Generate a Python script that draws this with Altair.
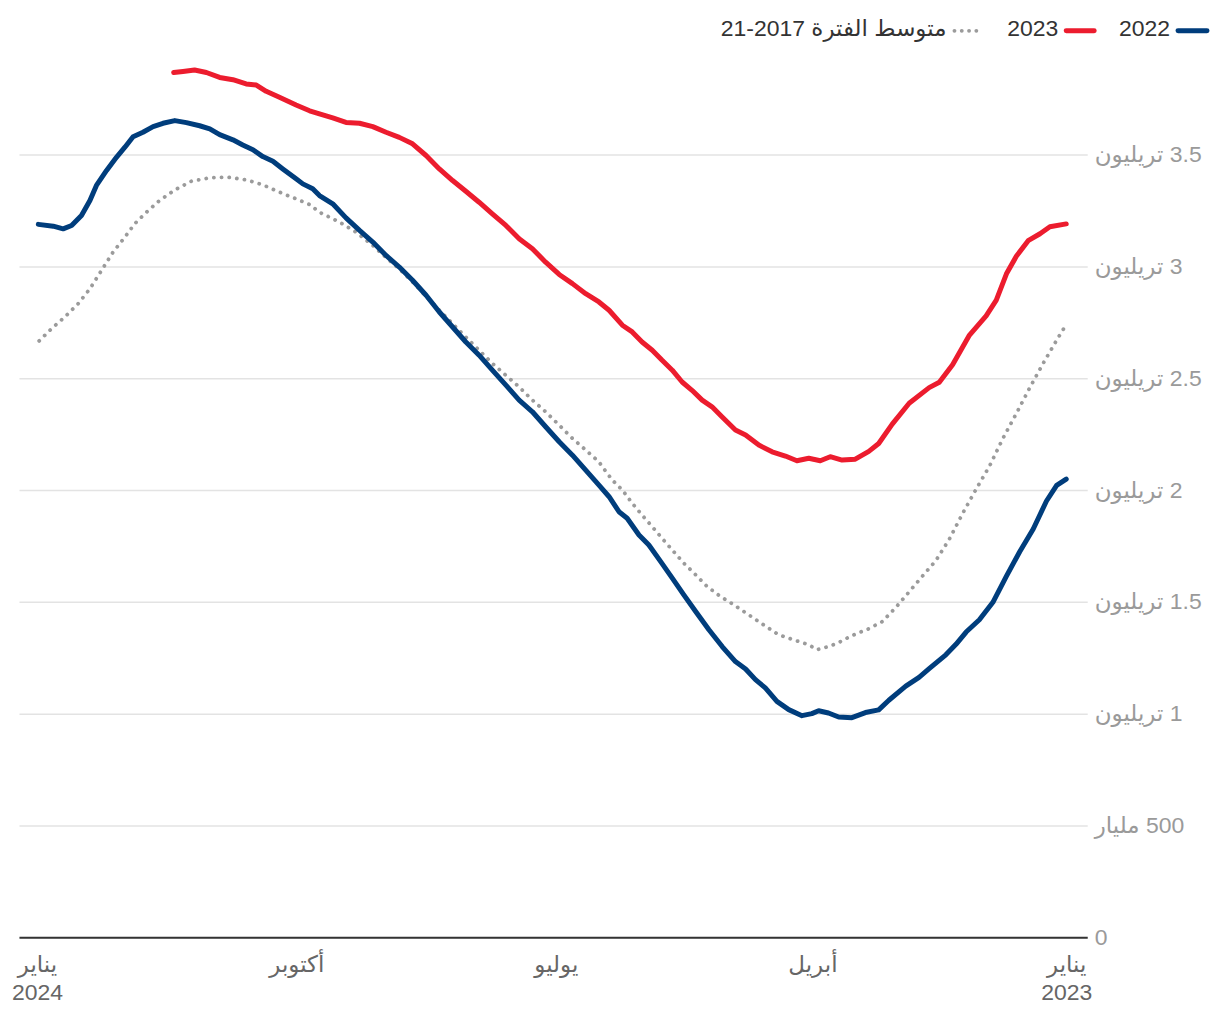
import altair as alt
import pandas as pd

# ---------------- data (day index 0 = 1 Jan, values in billion) ----------------
DAYS_2022 = [0, 3.4, 7.0, 11.7, 16.5, 21.2, 26.0, 30.8, 35.5, 39.1, 42.7, 48.6, 52.2, 56.9,
             62.9, 66.5, 71.2, 76.0, 80.7, 84.3, 87.8, 90.2, 93.7, 98.4, 102.6, 106.7, 110.2,
             113.7, 117.3, 122.0, 126.7, 131.4, 135.6, 139.7, 143.8, 148.0, 151.5, 155.7,
             158.6, 162.1, 165.7, 170.4, 175.1, 179.8, 184.6, 189.3, 194.0, 198.7, 203.5,
             208.2, 212.9, 217.6, 222.3, 227.0, 231.8, 236.5, 241.2, 245.9, 250.6, 255.4,
             260.1, 264.8, 267.2, 270.7, 273.1, 277.8, 281.3, 284.9, 288.4, 292.0, 295.5,
             300.2, 303.7, 307.3, 312.0, 316.1, 320.3, 323.8, 327.4, 330.9, 333.8, 336.8,
             340.3, 343.9, 346.2, 349.2, 352.7, 355.7, 359.2, 364.5]
VALS_2022 = [2049, 2021, 1951, 1826, 1724, 1615, 1498, 1420, 1365, 1310, 1263, 1201, 1162, 1123,
             1060, 1017, 1005, 982, 985, 1003, 1013, 1000, 991, 1018, 1055, 1115, 1152,
             1200, 1233, 1300, 1375, 1457, 1531, 1606, 1680, 1754, 1799, 1874,
             1903, 1970, 2022, 2089, 2156, 2216, 2283, 2350, 2402, 2469, 2536,
             2603, 2662, 2729, 2796, 2871, 2938, 2997, 3049, 3109, 3161, 3217,
             3280, 3317, 3347, 3369, 3392, 3436, 3470, 3491, 3522, 3543, 3566,
             3589, 3615, 3629, 3643, 3652, 3640, 3625, 3600, 3580, 3533, 3488,
             3429, 3362, 3295, 3228, 3183, 3168, 3180, 3188]

DAYS_2023 = [0, 5.8, 9.3, 13.5, 17.7, 21.2, 24.8, 28.4, 34.3, 40.3, 45.0, 48.6, 55.7, 61.7,
             66.5, 70.0, 74.8, 79.5, 83.7, 87.2, 91.3, 95.5, 99.6, 104.3, 109.0, 113.7,
             117.3, 122.0, 125.6, 129.1, 132.7, 136.2, 139.7, 143.3, 146.8, 150.4, 153.9,
             157.4, 162.1, 165.7, 170.4, 175.1, 179.8, 184.6, 189.3, 194.0, 198.7, 203.5,
             208.2, 212.9, 217.6, 222.3, 227.0, 231.8, 236.5, 241.2, 245.9, 250.6, 255.4,
             260.1, 264.8, 268.3, 273.1, 279.0, 283.7, 287.2, 290.8, 295.5, 300.2, 304.9,
             309.1, 313.2, 316.5]
VALS_2023 = [3190, 3177, 3146, 3115, 3045, 2967, 2849, 2779, 2693, 2560, 2482, 2458, 2388, 2295,
             2208, 2173, 2138, 2134, 2149, 2131, 2142, 2131, 2152, 2171, 2201, 2246,
             2268, 2327, 2372, 2402, 2446, 2483, 2536, 2580, 2625, 2662, 2707,
             2737, 2804, 2841, 2878, 2923, 2964, 3019, 3079, 3124, 3183, 3235,
             3287, 3336, 3384, 3436, 3496, 3548, 3577, 3600, 3625, 3640, 3644,
             3664, 3682, 3696, 3722, 3756, 3783, 3811, 3816, 3835, 3845, 3867,
             3878, 3872, 3867]

DAYS_AVG = [0, 3.4, 8.1, 12.9, 17.7, 22.4, 27.2, 31.9, 36.7, 41.5, 46.2, 51.0, 55.7, 60.5,
            65.2, 70.0, 76.0, 80.7, 84.3, 88.4, 91.3, 96.6, 102.0, 107.3, 112.6, 117.9,
            122.6, 127.3, 131.4, 135.6, 139.7, 143.3, 146.8, 150.4, 153.9, 157.4, 161.0,
            164.5, 165.7, 170.4, 175.1, 179.8, 184.6, 189.3, 194.0, 198.7, 203.5, 208.2,
            212.9, 217.6, 222.3, 227.0, 231.8, 236.5, 241.2, 245.9, 251.8, 257.7, 264.8,
            268.3, 273.7, 279.0, 284.9, 290.8, 297.3, 303.7, 310.2, 316.1, 321.5, 326.2,
            330.3, 333.8, 338.0, 342.1, 346.2, 350.4, 355.1, 359.8, 364.2]
VALS_AVG = [2740, 2670, 2568, 2458, 2342, 2232, 2107, 2005, 1896, 1779, 1685, 1615, 1545, 1474,
            1412, 1380, 1349, 1318, 1300, 1286, 1308, 1330, 1353, 1397, 1442, 1487,
            1524, 1568, 1621, 1673, 1732, 1784, 1836, 1888, 1941, 2000, 2045,
            2104, 2126, 2179, 2231, 2290, 2350, 2402, 2461, 2513, 2566, 2625,
            2684, 2744, 2804, 2866, 2931, 2989, 3040, 3094, 3153, 3198, 3242,
            3277, 3305, 3332, 3365, 3387, 3399, 3396, 3381, 3342, 3295, 3242,
            3191, 3131, 3064, 2982, 2900, 2833, 2774, 2722, 2667]

SERIES = ["2022", "2023", "21-2017 متوسط الفترة"]
COLORS = ["#003d7c", "#ec1c2e", "#9b9b9b"]

X_TICKS = [0, 90, 181, 273, 365]
X_LABELS = [["يناير", "2023"], "أبريل", "يوليو", "أكتوبر", ["يناير", "2024"]]

Y_TICKS = [0, 500, 1000, 1500, 2000, 2500, 3000, 3500]
Y_LABELS = ["0", "مليار \u200e500", "تريليون \u200e1", "تريليون \u200e1.5", "تريليون \u200e2",
            "تريليون \u200e2.5", "تريليون \u200e3", "تريليون \u200e3.5"]


def js(v):
    if isinstance(v, list):
        return "[" + ",".join("'" + s + "'" for s in v) + "]"
    return "'" + v + "'"


x_expr = "".join(f"datum.value == {t} ? {js(l)} : " for t, l in zip(X_TICKS, X_LABELS)) + "''"
y_expr = "".join(f"datum.value == {t} ? {js(l)} : " for t, l in zip(Y_TICKS, Y_LABELS)) + "''"

FONT = "Liberation Sans, DejaVu Sans, sans-serif"
FS = 23

df22 = pd.DataFrame({"day": DAYS_2022, "value": VALS_2022})
df23 = pd.DataFrame({"day": DAYS_2023, "value": VALS_2023})
dfav = pd.DataFrame({"day": DAYS_AVG, "value": VALS_AVG})

x_enc = alt.X("day:Q",
              scale=alt.Scale(domain=[-7.44, 371.36], reverse=True, nice=False, zero=False),
              axis=alt.Axis(values=X_TICKS, labelExpr=x_expr, title=None, grid=False,
                            ticks=False, domain=True, domainColor="#333333", domainWidth=2,
                            labelColor="#666666", labelFontSize=FS, labelFont=FONT,
                            labelLineHeight=28, labelPadding=16, labelFlush=False,
                            labelOverlap=False))
y_enc = alt.Y("value:Q",
              scale=alt.Scale(domain=[0, 4000], nice=False),
              axis=alt.Axis(orient="right", values=Y_TICKS, labelExpr=y_expr, title=None,
                            grid=True, gridColor="#e3e3e3", gridWidth=1.5, ticks=False,
                            domain=False, labelColor="#9a9a9a", labelFontSize=FS,
                            labelFont=FONT, labelPadding=7, labelAlign="left",
                            labelOverlap=False))

avg_line = alt.Chart(dfav).mark_line(
    color=COLORS[2], strokeWidth=3.8, strokeDash=[0.1, 7.6], strokeCap="round"
).encode(x=x_enc, y=y_enc)

l22 = alt.Chart(df22).mark_line(
    color=COLORS[0], strokeWidth=5, strokeCap="round", strokeJoin="round"
).encode(x="day:Q", y="value:Q")

l23 = alt.Chart(df23).mark_line(
    color=COLORS[1], strokeWidth=5, strokeCap="round", strokeJoin="round"
).encode(x="day:Q", y="value:Q")


# ---------------- legend (right-to-left) ----------------
def leg_text(label, xr):
    return alt.Chart(pd.DataFrame({"label": [label]})).mark_text(
        align="right", baseline="middle", fontSize=FS, font=FONT, color="#333333"
    ).encode(text="label:N", x=alt.value(xr), y=alt.value(-14))


def leg_rule(color, x1, x2, dash=None, width=5):
    kw = dict(color=color, strokeWidth=width, strokeCap="round")
    if dash:
        kw["strokeDash"] = dash
    return alt.Chart(pd.DataFrame({"label": ["x"]})).mark_rule(**kw).encode(
        x=alt.value(x1), x2=alt.value(x2), y=alt.value(-12))


legend = (
    leg_rule(COLORS[0], 1161, 1190) + leg_text(SERIES[0], 1153)
    + leg_rule(COLORS[1], 1049, 1077) + leg_text(SERIES[1], 1041)
    + leg_rule(COLORS[2], 937, 966, dash=[0.1, 7.2], width=3.8) + leg_text(SERIES[2], 929)
)

chart = alt.layer(avg_line, l22, l23, legend).properties(
    width=1070, height=896,
    autosize=alt.AutoSizeParams(type="none"),
    padding={"left": 11, "top": 34, "right": 125, "bottom": 75},
    background="white",
).configure_view(stroke=None)

chart.save("out.html", embed_options={"renderer": "svg", "actions": False})
